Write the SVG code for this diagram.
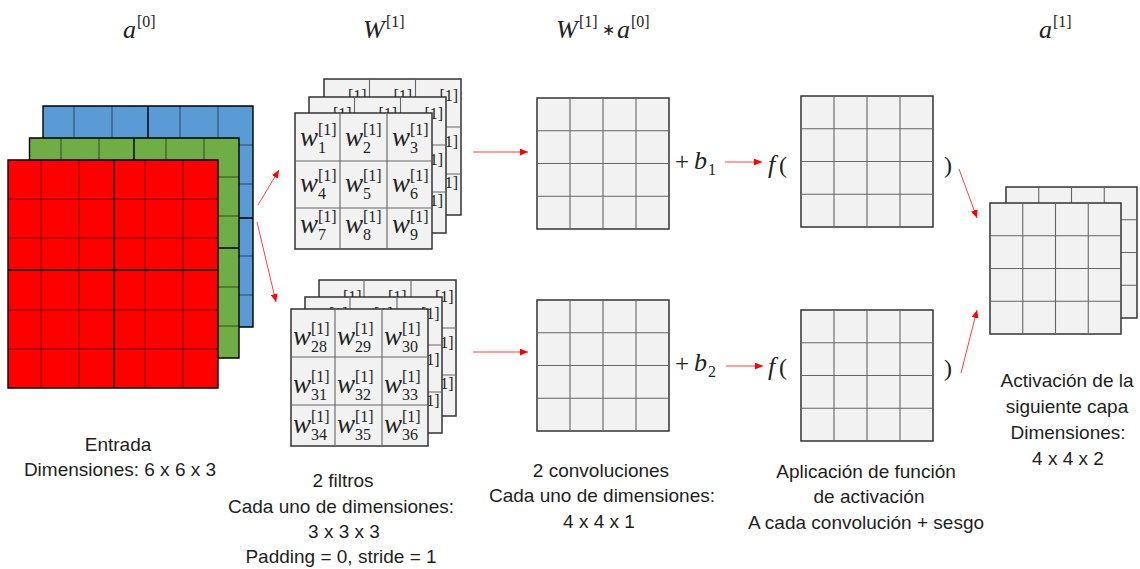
<svg xmlns="http://www.w3.org/2000/svg" width="1140" height="569" viewBox="0 0 1140 569">
<style>
.lbl{font-family:"Liberation Sans",Arial,sans-serif;font-size:19px;fill:#1e1e1e;text-anchor:middle}
.mi{font-family:"Liberation Serif","Times New Roman",serif;font-style:italic;font-size:27px;fill:#222}
.hm{font-family:"Liberation Serif","Times New Roman",serif;font-style:italic;font-size:26px;fill:#222}
.sc{font-family:"Liberation Serif","Times New Roman",serif;font-size:16px;fill:#222}
.op{font-family:"Liberation Serif","Times New Roman",serif;font-size:24px;fill:#222}
.cell{fill:#f2f2f2;stroke:#333;stroke-width:1.5}
.grid{fill:none;stroke:#666;stroke-width:1.1}
.thin{fill:none;stroke:#000;stroke-opacity:0.55;stroke-width:1}
.thick{fill:none;stroke:#000;stroke-width:1.4}
.arr{fill:none;stroke:#ff4040;stroke-width:1;marker-end:url(#ah)}
</style>
<defs>
<marker id="ah" markerUnits="userSpaceOnUse" markerWidth="9" markerHeight="7" refX="8" refY="3.5" orient="auto">
<path d="M0,0 L8,3.5 L0,7 z" fill="#ff0000"/>
</marker>
</defs>

<g id="headers">
<text class="hm" x="123" y="38">a</text><text class="sc" x="137" y="27">[0]</text>
<text class="hm" x="363" y="38">W</text><text class="sc" x="386" y="27">[1]</text>
<text class="hm" x="556" y="38">W</text><text class="sc" x="579" y="27">[1]</text><text class="op" x="602" y="35" style="font-size:16px">∗</text><text class="hm" x="617" y="38">a</text><text class="sc" x="631" y="27">[0]</text>
<text class="hm" x="1039" y="38">a</text><text class="sc" x="1053" y="27">[1]</text>
</g>

<g id="input">
<rect x="43" y="106" width="210" height="221" fill="#5b9bd5"/>
<path class="thin" d="M74 106V327M112 106V327M180 106V327M218 106V327M43 145H253M43 184H253M43 256H253M43 295H253"/>
<path class="thick" d="M43 106H253V327H43ZM148 106V327M43 218H253"/>
<rect x="29.5" y="138" width="209.5" height="220" fill="#70ad47"/>
<path class="thin" d="M61 138V358M99 138V358M166 138V358M204 138V358M29.5 177H239M29.5 216H239M29.5 287H239M29.5 326H239"/>
<path class="thick" d="M29.5 138H239V358H29.5ZM134 138V358M29.5 248H239"/>
<rect x="8" y="160" width="210" height="228" fill="#ff0000"/>
<path class="thin" d="M41 160V388M79 160V388M145 160V388M183 160V388M8 199H218M8 238H218M8 310H218M8 349H218"/>
<path class="thick" d="M8 160H218V388H8ZM114 160V388M8 270H218"/>
</g>

<g id="filter1">
<rect class="cell" x="324" y="79" width="137" height="136"/>
<path class="grid" d="M369.5 79V215M415.5 79V215M324 127H461M324 174H461"/>
<text class="sc" x="348" y="100.5">[1]</text><text class="sc" x="393.5" y="100.5">[1]</text><text class="sc" x="439.5" y="100.5">[1]</text>
<text class="sc" x="439.5" y="146.5">[1]</text><text class="sc" x="439.5" y="187.5">[1]</text>
<rect class="cell" x="309" y="97" width="137" height="136"/>
<path class="grid" d="M354.5 97V233M400.5 97V233M309 145H446M309 192H446"/>
<text class="sc" x="333" y="118.5">[1]</text><text class="sc" x="378.5" y="118.5">[1]</text><text class="sc" x="424.5" y="118.5">[1]</text>
<text class="sc" x="424.5" y="164.5">[1]</text><text class="sc" x="424.5" y="205.5">[1]</text>
<rect class="cell" x="295" y="113" width="137" height="136"/>
<path class="grid" d="M340 113V249M387 113V249M295 161H432M295 208H432"/>
<text class="mi" x="300" y="146">w</text><text class="sc" x="318" y="134.5">[1]</text><text class="sc" x="318" y="153">1</text>
<text class="mi" x="345" y="146">w</text><text class="sc" x="363" y="134.5">[1]</text><text class="sc" x="363" y="153">2</text>
<text class="mi" x="392" y="146">w</text><text class="sc" x="410" y="134.5">[1]</text><text class="sc" x="410" y="153">3</text>
<text class="mi" x="300" y="192">w</text><text class="sc" x="318" y="180.5">[1]</text><text class="sc" x="318" y="199">4</text>
<text class="mi" x="345" y="192">w</text><text class="sc" x="363" y="180.5">[1]</text><text class="sc" x="363" y="199">5</text>
<text class="mi" x="392" y="192">w</text><text class="sc" x="410" y="180.5">[1]</text><text class="sc" x="410" y="199">6</text>
<text class="mi" x="300" y="233">w</text><text class="sc" x="318" y="221.5">[1]</text><text class="sc" x="318" y="240">7</text>
<text class="mi" x="345" y="233">w</text><text class="sc" x="363" y="221.5">[1]</text><text class="sc" x="363" y="240">8</text>
<text class="mi" x="392" y="233">w</text><text class="sc" x="410" y="221.5">[1]</text><text class="sc" x="410" y="240">9</text>
</g>

<g id="filter2">
<rect class="cell" x="319" y="280" width="137" height="136"/>
<path class="grid" d="M364 280V416M411 280V416M319 328H456M319 375H456"/>
<text class="sc" x="343" y="301.5">[1]</text><text class="sc" x="388" y="301.5">[1]</text><text class="sc" x="435" y="301.5">[1]</text>
<text class="sc" x="435" y="347.5">[1]</text><text class="sc" x="435" y="388.5">[1]</text>
<rect class="cell" x="305" y="297" width="137" height="136"/>
<path class="grid" d="M350 297V433M397 297V433M305 345H442M305 392H442"/>
<text class="sc" x="329" y="318.5">[1]</text><text class="sc" x="374" y="318.5">[1]</text><text class="sc" x="421" y="318.5">[1]</text>
<text class="sc" x="421" y="364.5">[1]</text><text class="sc" x="421" y="405.5">[1]</text>
<rect class="cell" x="291" y="309" width="137" height="137"/>
<path class="grid" d="M335 309V446M382 309V446M291 357H428M291 405H428"/>
<text class="mi" x="293" y="345">w</text><text class="sc" x="311" y="333.5">[1]</text><text class="sc" x="311" y="352">28</text>
<text class="mi" x="337" y="345">w</text><text class="sc" x="355" y="333.5">[1]</text><text class="sc" x="355" y="352">29</text>
<text class="mi" x="384" y="345">w</text><text class="sc" x="402" y="333.5">[1]</text><text class="sc" x="402" y="352">30</text>
<text class="mi" x="293" y="393">w</text><text class="sc" x="311" y="381.5">[1]</text><text class="sc" x="311" y="400">31</text>
<text class="mi" x="337" y="393">w</text><text class="sc" x="355" y="381.5">[1]</text><text class="sc" x="355" y="400">32</text>
<text class="mi" x="384" y="393">w</text><text class="sc" x="402" y="381.5">[1]</text><text class="sc" x="402" y="400">33</text>
<text class="mi" x="293" y="433">w</text><text class="sc" x="311" y="421.5">[1]</text><text class="sc" x="311" y="440">34</text>
<text class="mi" x="337" y="433">w</text><text class="sc" x="355" y="421.5">[1]</text><text class="sc" x="355" y="440">35</text>
<text class="mi" x="384" y="433">w</text><text class="sc" x="402" y="421.5">[1]</text><text class="sc" x="402" y="440">36</text>
</g>

<g id="conv1">
<rect class="cell" x="537" y="98" width="132" height="131"/>
<path class="grid" d="M570 98V229M603 98V229M636 98V229M537 130.75H669M537 163.5H669M537 196.25H669"/>
<text class="op" x="675" y="170" style="font-size:25px">+</text><text class="mi" x="694" y="169" style="font-size:26px">b</text><text class="sc" x="708" y="175">1</text>
</g>
<g id="conv2">
<rect class="cell" x="537" y="300" width="132" height="131"/>
<path class="grid" d="M570 300V431M603 300V431M636 300V431M537 332.75H669M537 365.5H669M537 398.25H669"/>
<text class="op" x="675" y="372" style="font-size:25px">+</text><text class="mi" x="694" y="371" style="font-size:26px">b</text><text class="sc" x="708" y="377">2</text>
</g>

<g id="act1">
<text class="mi" x="768" y="173" style="font-size:26px">f</text><text class="op" x="779" y="173">(</text>
<rect class="cell" x="801" y="96" width="132" height="131"/>
<path class="grid" d="M834 96V227M867 96V227M900 96V227M801 128.75H933M801 161.5H933M801 194.25H933"/>
<text class="op" x="944" y="173">)</text>
</g>
<g id="act2">
<text class="mi" x="768" y="375" style="font-size:26px">f</text><text class="op" x="779" y="375">(</text>
<rect class="cell" x="801" y="310" width="132" height="131"/>
<path class="grid" d="M834 310V441M867 310V441M900 310V441M801 342.75H933M801 375.5H933M801 408.25H933"/>
<text class="op" x="944" y="376">)</text>
</g>

<g id="output">
<rect class="cell" x="1006" y="187" width="131" height="131"/>
<path class="grid" d="M1038.75 187V318M1071.5 187V318M1104.25 187V318M1006 219.75H1137M1006 252.5H1137M1006 285.25H1137"/>
<rect class="cell" x="990" y="203" width="131" height="131"/>
<path class="grid" d="M1022.75 203V334M1055.5 203V334M1088.25 203V334M990 235.75H1121M990 268.5H1121M990 301.25H1121"/>
</g>

<g id="connectors">
<path class="arr" d="M258 205L279 170"/>
<path class="arr" d="M257 222L276 302"/>
<path class="arr" d="M473 152H528"/>
<path class="arr" d="M473 352H528"/>
<path class="arr" d="M725 162H762"/>
<path class="arr" d="M726 366H763"/>
<path class="arr" d="M959 169L977 218"/>
<path class="arr" d="M961 373L977 310"/>
</g>

<g id="labels">
<text class="lbl" x="118" y="451">Entrada</text>
<text class="lbl" x="120" y="476">Dimensiones: 6 x 6 x 3</text>
<text class="lbl" x="343" y="487">2 filtros</text>
<text class="lbl" x="341" y="513">Cada uno de dimensiones:</text>
<text class="lbl" x="344" y="538">3 x 3 x 3</text>
<text class="lbl" x="341" y="563">Padding = 0, stride = 1</text>
<text class="lbl" x="601" y="477">2 convoluciones</text>
<text class="lbl" x="602" y="502">Cada uno de dimensiones:</text>
<text class="lbl" x="599" y="528">4 x 4 x 1</text>
<text class="lbl" x="866" y="478">Aplicación de función</text>
<text class="lbl" x="869" y="503">de activación</text>
<text class="lbl" x="866" y="529">A cada convolución + sesgo</text>
<text class="lbl" x="1067" y="387">Activación de la</text>
<text class="lbl" x="1067" y="413">siguiente capa</text>
<text class="lbl" x="1068" y="439">Dimensiones:</text>
<text class="lbl" x="1068" y="465">4 x 4 x 2</text>
</g>
</svg>
